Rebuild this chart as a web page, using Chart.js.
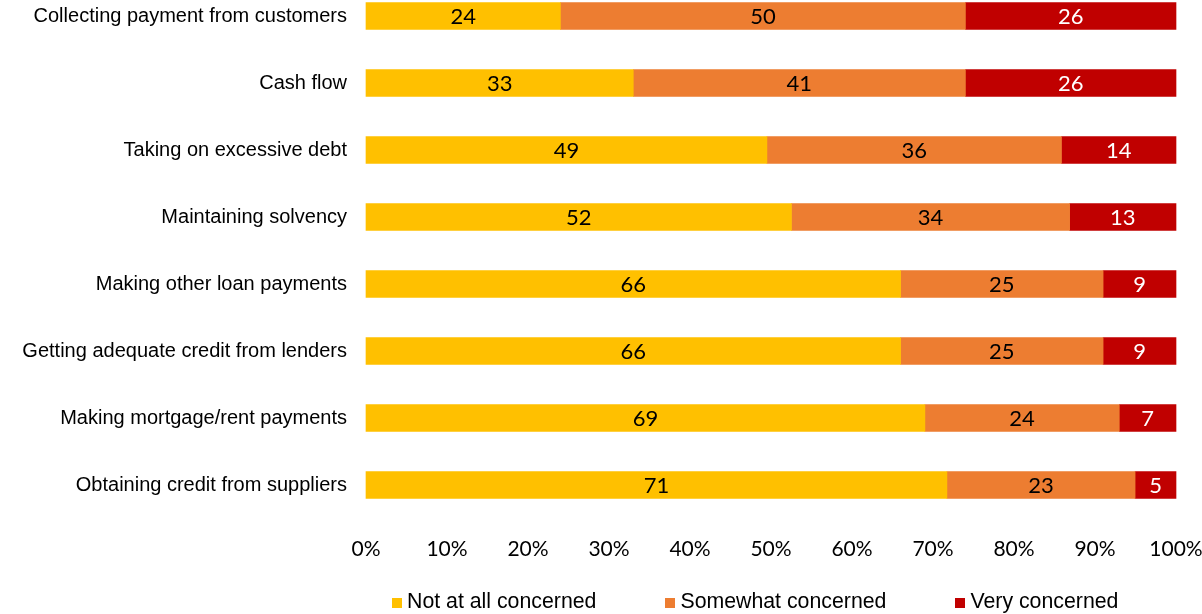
<!DOCTYPE html>
<html>
<head>
<meta charset="utf-8">
<script src="https://cdn.jsdelivr.net/npm/chart.js@4/dist/chart.umd.min.js"></script>
<style>
  html, body { margin: 0; padding: 0; background: #fff; }
  #wrap { position: relative; width: 1202px; height: 614px; }
  #legend {
    position: absolute; left: 392px; top: 589px;
    display: flex; align-items: center;
    font: 21.3px "Liberation Sans", Arial, sans-serif; color: #000;
  }
  #legend .item { display: flex; align-items: center; margin-right: 69px; }
  #legend .item:last-child { margin-right: 0; }
  #legend .box { width: 10px; height: 10px; margin-right: 5px; margin-top: 3px; }
</style>
</head>
<body>
<div id="wrap">
  <canvas id="concernChart" width="1202" height="614"></canvas>
  <div id="legend"></div>
</div>
<script>
// survey answers, one entry per topic (top to bottom)
const categories = [
  'Collecting payment from customers',
  'Cash flow',
  'Taking on excessive debt',
  'Maintaining solvency',
  'Making other loan payments',
  'Getting adequate credit from lenders',
  'Making mortgage/rent payments',
  'Obtaining credit from suppliers'
];
const notAtAll = [24, 33, 49, 52, 66, 66, 69, 71];
const somewhat = [50, 41, 36, 34, 25, 25, 24, 23];
const very = [26, 26, 14, 13, 9, 9, 7, 5];
const xTicks = [0, 10, 20, 30, 40, 50, 60, 70, 80, 90, 100];

// rows don't always add to exactly 100, so scale each to a full bar
const totals = categories.map((c, i) => notAtAll[i] + somewhat[i] + very[i]);
const share = arr => arr.map((v, i) => v / totals[i] * 100);

const series = [
  { label: 'Not at all concerned', counts: notAtAll, color: '#FFC000', text: '#000' },
  { label: 'Somewhat concerned', counts: somewhat, color: '#ED7D31', text: '#000' },
  { label: 'Very concerned', counts: very, color: '#C00000', text: '#fff' }
];

// prints the raw answer in the middle of each segment
const barLabels = {
  id: 'barLabels',
  afterDatasetsDraw(chart) {
    const ctx = chart.ctx;
    ctx.save();
    ctx.font = '22px Lato, "Open Sans", sans-serif';
    ctx.textAlign = 'center';
    ctx.textBaseline = 'middle';
    chart.data.datasets.forEach((ds, i) => {
      chart.getDatasetMeta(i).data.forEach((bar, j) => {
        const p = bar.getProps(['x', 'y', 'base'], true);
        ctx.fillStyle = series[i].text;
        ctx.fillText(series[i].counts[j], (p.x + p.base) / 2, p.y + 1);
      });
    });
    ctx.restore();
  }
};

// the scales shouldn't reserve extra room for their edge labels;
// layout.padding alone sets the plot edges
const noEdgePadding = scale => {
  scale.paddingLeft = 0;
  scale.paddingRight = 0;
  scale.paddingTop = 0;
  scale.paddingBottom = 0;
};

const ctx = document.getElementById('concernChart').getContext('2d');
const chart = new Chart(ctx, {
  type: 'bar',
  data: {
    labels: categories,
    datasets: series.map(s => ({
      label: s.label,
      data: share(s.counts),
      backgroundColor: s.color,
      borderWidth: 0,
      barThickness: 27,
      clip: false
    }))
  },
  options: {
    indexAxis: 'y',
    responsive: false,
    animation: false,
    layout: {
      padding: { top: 16, right: 26, bottom: 0, left: 0 }
    },
    plugins: {
      legend: { display: false },
      tooltip: { enabled: false }
    },
    scales: {
      x: {
        stacked: true,
        min: 0,
        max: 100,
        afterBuildTicks: scale => {
          scale.ticks = xTicks.map(v => ({ value: v }));
        },
        afterFit: scale => {
          scale.height = 129;
          noEdgePadding(scale);
        },
        grid: { display: false, drawTicks: false },
        border: { display: false },
        ticks: {
          padding: 52,
          maxRotation: 0,
          color: '#000',
          font: { family: 'Lato, "Open Sans", sans-serif', size: 21 },
          callback: v => v + '%'
        }
      },
      y: {
        stacked: true,
        offset: false,
        afterFit: scale => {
          scale.width = 366;
          noEdgePadding(scale);
        },
        grid: { display: false, drawTicks: false },
        border: { display: false },
        ticks: {
          padding: 19,
          color: '#000',
          font: { family: '"Liberation Sans", Arial, sans-serif', size: 20 }
        }
      }
    }
  },
  plugins: [barLabels]
});

// legend built from the same dataset list
const legendEl = document.getElementById('legend');
series.forEach(s => {
  const item = document.createElement('div');
  item.className = 'item';
  const box = document.createElement('span');
  box.className = 'box';
  box.style.background = s.color;
  const txt = document.createElement('span');
  txt.textContent = s.label;
  item.appendChild(box);
  item.appendChild(txt);
  legendEl.appendChild(item);
});
</script>
</body>
</html>
